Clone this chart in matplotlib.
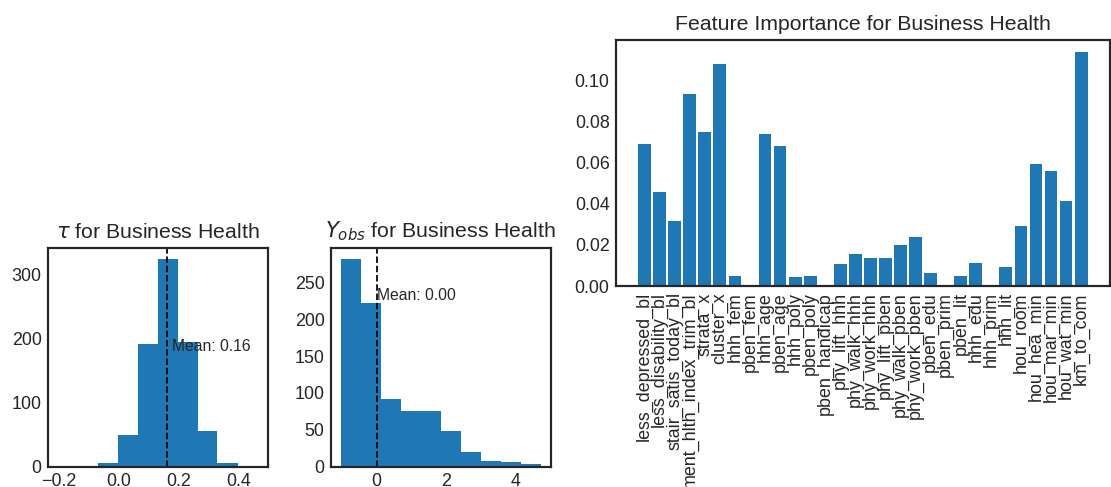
import matplotlib
matplotlib.use('Agg')
import matplotlib.pyplot as plt
import numpy as np

# tau histogram (bin edges + counts)
tau_edges = [-0.202, -0.135, -0.069, -0.002, 0.065, 0.131, 0.198, 0.265, 0.331, 0.398, 0.465]
tau_counts = [1, 0, 5, 49, 191, 325, 195, 56, 5, 1]
tau_mean = 0.163

# Y_obs histogram
y_edges = [-1.04, -0.462, 0.116, 0.694, 1.272, 1.85, 2.428, 3.006, 3.584, 4.162, 4.74]
y_counts = [282, 222, 92, 75, 75, 48, 20, 8, 6, 3]
y_mean = 0.0

# feature importances
features = ['less_depressed_bl', 'less_disability_bl', 'stair_satis_today_bl',
            'ment_hlth_index_trim_bl', 'strata_x', 'cluster_x', 'hhh_fem', 'pben_fem',
            'hhh_age', 'pben_age', 'hhh_poly', 'pben_poly', 'pben_handicap',
            'phy_lift_hhh', 'phy_walk_hhh', 'phy_work_hhh', 'phy_lift_pben',
            'phy_walk_pben', 'phy_work_pben', 'pben_edu', 'pben_prim', 'pben_lit',
            'hhh_edu', 'hhh_prim', 'hhh_lit', 'hou_room', 'hou_hea_min',
            'hou_mar_min', 'hou_wat_min', 'km_to_com']
importances = [0.0693, 0.0456, 0.0316, 0.0937, 0.0752, 0.1083, 0.0049, 0.0,
               0.0741, 0.0680, 0.0044, 0.0049, 0.0,
               0.0107, 0.0155, 0.0136, 0.0136,
               0.0199, 0.0238, 0.0063, 0.0, 0.0049,
               0.0112, 0.0, 0.0092, 0.0291, 0.0592,
               0.0558, 0.0413, 0.1141]

plt.style.use('seaborn-v0_8-white')
plt.rcParams['font.family'] = ['Liberation Sans', 'DejaVu Sans']
plt.rcParams['xtick.labelsize'] = 10.2
plt.rcParams['ytick.labelsize'] = 10.2
plt.rcParams['axes.titlesize'] = 12.15

fig = plt.figure(figsize=(1111 / 126, 487 / 126), dpi=126)
ax1 = fig.add_axes([0.0429, 0.0417, 0.198, 0.4485])
ax2 = fig.add_axes([0.2977, 0.0417, 0.198, 0.4485])
ax3 = fig.add_axes([0.5542, 0.4127, 0.4449, 0.5051])

# tau
ax1.hist(tau_edges[:-1], bins=tau_edges, weights=tau_counts, color='#1f77b4')
ax1.axvline(tau_mean, color='k', linestyle='dashed', linewidth=1)
ax1.text(tau_mean * 1.1, 180, 'Mean: {:.2f}'.format(tau_mean), fontsize=9)
ax1.set_xticks([-0.2, 0.0, 0.2, 0.4])
ax1.set_title(r'$\tau$ for Business Health')

# Y_obs
ax2.hist(y_edges[:-1], bins=y_edges, weights=y_counts, color='#1f77b4')
ax2.axvline(y_mean, color='k', linestyle='dashed', linewidth=1)
ax2.text(y_mean * 1.1, 226, 'Mean: {:.2f}'.format(y_mean), fontsize=9)
ax2.set_title(r'$Y_{obs}$ for Business Health')

# feature importance
x = np.arange(len(features))
ax3.bar(x, importances, width=0.85, color='#1f77b4')
ax3.set_xticks(x)
ax3.set_xticklabels(features, rotation=90)
ax3.set_title('Feature Importance for Business Health')

fig.savefig('out.png', dpi=126)
